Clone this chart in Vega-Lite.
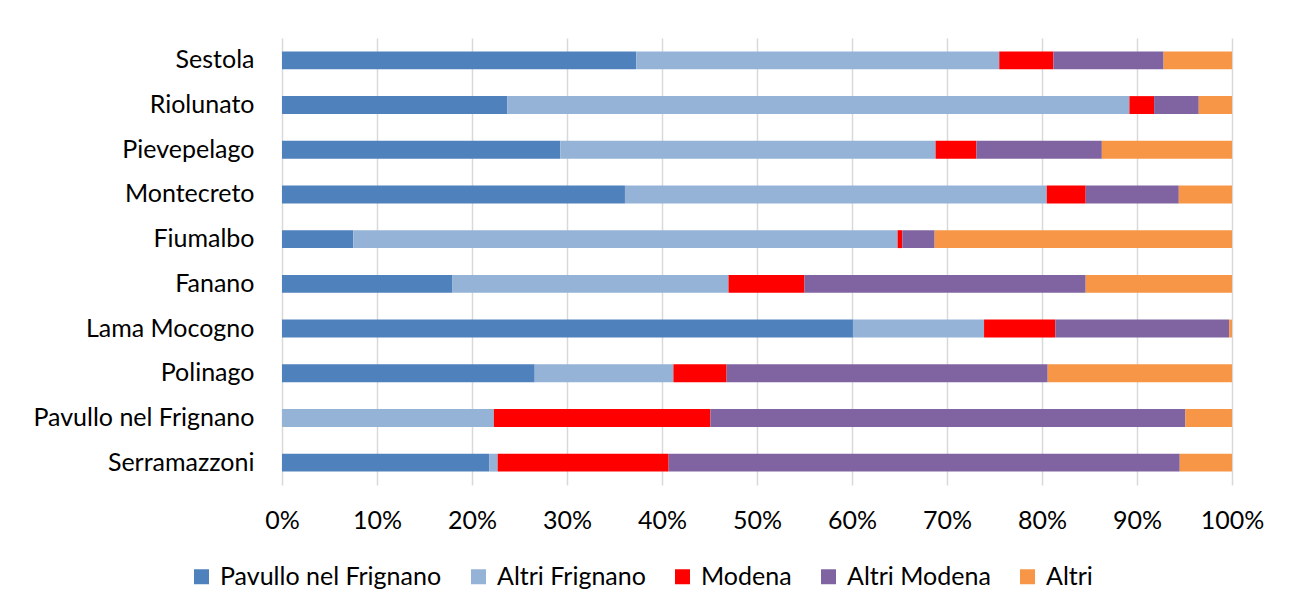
{
  "$schema": "https://vega.github.io/schema/vega-lite/v6.json",
  "autosize": {"type": "none"},
  "padding": {"left": 282, "top": 38, "right": 65, "bottom": 128},
  "width": 950,
  "height": 447,
  "background": "white",
  "config": {
    "font": "Lato",
    "view": {"stroke": null},
    "axis": {"labelFont": "Lato", "labelFontSize": 25, "labelColor": "#000000", "titleFont": "Lato"},
    "legend": {"labelFont": "Lato", "labelFontSize": 25, "labelColor": "#000000"}
  },
  "data": {
    "values": [
      {"comune": "Sestola", "origine": "Pavullo nel Frignano", "ord": 1, "v": 37.3},
      {"comune": "Sestola", "origine": "Altri Frignano", "ord": 2, "v": 38.2},
      {"comune": "Sestola", "origine": "Modena", "ord": 3, "v": 5.7},
      {"comune": "Sestola", "origine": "Altri Modena", "ord": 4, "v": 11.6},
      {"comune": "Sestola", "origine": "Altri", "ord": 5, "v": 7.2},
      {"comune": "Riolunato", "origine": "Pavullo nel Frignano", "ord": 1, "v": 23.7},
      {"comune": "Riolunato", "origine": "Altri Frignano", "ord": 2, "v": 65.5},
      {"comune": "Riolunato", "origine": "Modena", "ord": 3, "v": 2.6},
      {"comune": "Riolunato", "origine": "Altri Modena", "ord": 4, "v": 4.7},
      {"comune": "Riolunato", "origine": "Altri", "ord": 5, "v": 3.5},
      {"comune": "Pievepelago", "origine": "Pavullo nel Frignano", "ord": 1, "v": 29.3},
      {"comune": "Pievepelago", "origine": "Altri Frignano", "ord": 2, "v": 39.5},
      {"comune": "Pievepelago", "origine": "Modena", "ord": 3, "v": 4.3},
      {"comune": "Pievepelago", "origine": "Altri Modena", "ord": 4, "v": 13.2},
      {"comune": "Pievepelago", "origine": "Altri", "ord": 5, "v": 13.7},
      {"comune": "Montecreto", "origine": "Pavullo nel Frignano", "ord": 1, "v": 36.1},
      {"comune": "Montecreto", "origine": "Altri Frignano", "ord": 2, "v": 44.4},
      {"comune": "Montecreto", "origine": "Modena", "ord": 3, "v": 4.1},
      {"comune": "Montecreto", "origine": "Altri Modena", "ord": 4, "v": 9.8},
      {"comune": "Montecreto", "origine": "Altri", "ord": 5, "v": 5.6},
      {"comune": "Fiumalbo", "origine": "Pavullo nel Frignano", "ord": 1, "v": 7.5},
      {"comune": "Fiumalbo", "origine": "Altri Frignano", "ord": 2, "v": 57.3},
      {"comune": "Fiumalbo", "origine": "Modena", "ord": 3, "v": 0.5},
      {"comune": "Fiumalbo", "origine": "Altri Modena", "ord": 4, "v": 3.4},
      {"comune": "Fiumalbo", "origine": "Altri", "ord": 5, "v": 31.3},
      {"comune": "Fanano", "origine": "Pavullo nel Frignano", "ord": 1, "v": 17.9},
      {"comune": "Fanano", "origine": "Altri Frignano", "ord": 2, "v": 29.1},
      {"comune": "Fanano", "origine": "Modena", "ord": 3, "v": 8.0},
      {"comune": "Fanano", "origine": "Altri Modena", "ord": 4, "v": 29.6},
      {"comune": "Fanano", "origine": "Altri", "ord": 5, "v": 15.4},
      {"comune": "Lama Mocogno", "origine": "Pavullo nel Frignano", "ord": 1, "v": 60.1},
      {"comune": "Lama Mocogno", "origine": "Altri Frignano", "ord": 2, "v": 13.8},
      {"comune": "Lama Mocogno", "origine": "Modena", "ord": 3, "v": 7.5},
      {"comune": "Lama Mocogno", "origine": "Altri Modena", "ord": 4, "v": 18.3},
      {"comune": "Lama Mocogno", "origine": "Altri", "ord": 5, "v": 0.3},
      {"comune": "Polinago", "origine": "Pavullo nel Frignano", "ord": 1, "v": 26.6},
      {"comune": "Polinago", "origine": "Altri Frignano", "ord": 2, "v": 14.6},
      {"comune": "Polinago", "origine": "Modena", "ord": 3, "v": 5.6},
      {"comune": "Polinago", "origine": "Altri Modena", "ord": 4, "v": 33.8},
      {"comune": "Polinago", "origine": "Altri", "ord": 5, "v": 19.4},
      {"comune": "Pavullo nel Frignano", "origine": "Pavullo nel Frignano", "ord": 1, "v": 0},
      {"comune": "Pavullo nel Frignano", "origine": "Altri Frignano", "ord": 2, "v": 22.3},
      {"comune": "Pavullo nel Frignano", "origine": "Modena", "ord": 3, "v": 22.8},
      {"comune": "Pavullo nel Frignano", "origine": "Altri Modena", "ord": 4, "v": 50.0},
      {"comune": "Pavullo nel Frignano", "origine": "Altri", "ord": 5, "v": 4.9},
      {"comune": "Serramazzoni", "origine": "Pavullo nel Frignano", "ord": 1, "v": 21.8},
      {"comune": "Serramazzoni", "origine": "Altri Frignano", "ord": 2, "v": 0.9},
      {"comune": "Serramazzoni", "origine": "Modena", "ord": 3, "v": 18.0},
      {"comune": "Serramazzoni", "origine": "Altri Modena", "ord": 4, "v": 53.8},
      {"comune": "Serramazzoni", "origine": "Altri", "ord": 5, "v": 5.5}
    ]
  },
  "mark": {"type": "bar"},
  "encoding": {
    "y": {
      "field": "comune",
      "type": "nominal",
      "sort": ["Sestola", "Riolunato", "Pievepelago", "Montecreto", "Fiumalbo", "Fanano", "Lama Mocogno", "Polinago", "Pavullo nel Frignano", "Serramazzoni"],
      "scale": {"paddingInner": 0.6, "paddingOuter": 0.3},
      "axis": {"title": null, "domain": false, "ticks": false, "labelPadding": 28, "grid": false, "labelLimit": 300}
    },
    "x": {
      "field": "v",
      "type": "quantitative",
      "stack": "normalize",
      "scale": {"domain": [0, 1], "nice": false},
      "axis": {"title": null, "format": ".0%", "values": [0, 0.1, 0.2, 0.3, 0.4, 0.5, 0.6, 0.7, 0.8, 0.9, 1], "domain": false, "ticks": false, "grid": true, "gridColor": "#d9d9d9", "gridWidth": 1.5, "labelPadding": 23, "labelFlush": false}
    },
    "color": {
      "field": "origine",
      "type": "nominal",
      "scale": {
        "domain": ["Pavullo nel Frignano", "Altri Frignano", "Modena", "Altri Modena", "Altri"],
        "range": ["#4f81bd", "#95b3d7", "#ff0000", "#8064a2", "#f79646"]
      },
      "legend": {
        "title": null,
        "orient": "none",
        "direction": "horizontal",
        "legendX": -93,
        "legendY": 526,
        "symbolType": "square",
        "symbolSize": 225,
        "symbolStrokeWidth": 0,
        "symbolOpacity": 1,
        "labelOffset": 6,
        "columnPadding": 24,
        "labelLimit": 400
      }
    },
    "order": {"field": "ord", "type": "quantitative"}
  }
}
